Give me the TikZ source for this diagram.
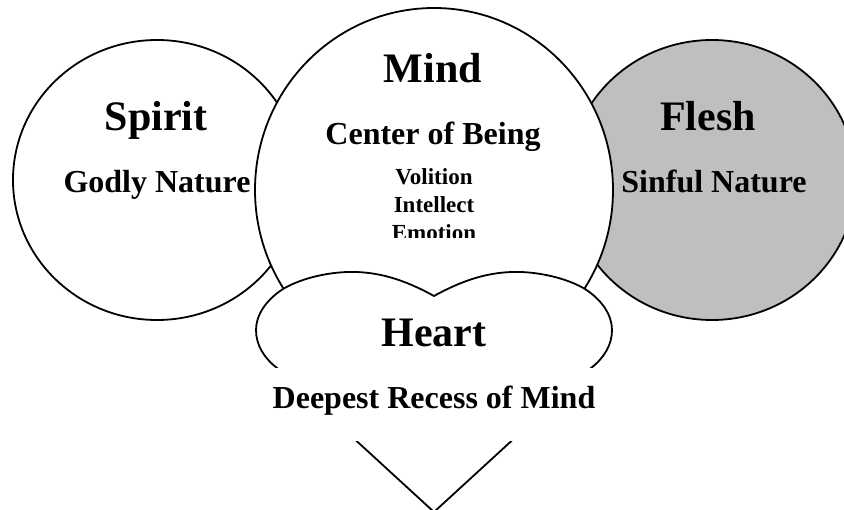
\documentclass[tikz,border=0pt]{standalone}
\usepackage{fontspec}
\setmainfont{Liberation Serif}
\begin{document}
\begin{tikzpicture}[x=1pt,y=-1pt,
    outline/.style={black,line width=1.8pt},
    title/.style={anchor=base,font=\bfseries\fontsize{42}{48}\selectfont},
    subtitle/.style={anchor=base,font=\bfseries\fontsize{32}{38}\selectfont},
    small/.style={anchor=base,font=\bfseries\fontsize{23}{28}\selectfont}]
    \useasboundingbox (0,0) rectangle (844,510);
    % side ellipses
    \draw[outline,fill=white] (157,180) ellipse (144 and 140);
    \draw[outline,fill=black!25] (712,180) ellipse (144 and 140);
    \node[title] (spirit) at (156,131) {Spirit};
    \node[subtitle] (godly) at (157,193) {Godly Nature};
    \node[title] (flesh) at (708,131) {Flesh};
    \node[subtitle] (sinful) at (714,193) {Sinful Nature};
    % mind in the middle
    \draw[outline,fill=white] (434,190) ellipse (179 and 182);
    \node[title] (mind) at (433,83) {Mind};
    \node[subtitle] (center) at (433,145) {Center of Being};
    \node[small] (volition) at (434,185) {Volition};
    \node[small] (intellect) at (434,213) {Intellect};
    \begin{scope}
        \clip (300,150) rectangle (570,238);
        \node[small] (emotion) at (434,241) {Emotion};
    \end{scope}
    % heart
    \draw[outline,fill=white,line join=miter] (434,296)
        .. controls (405,280) and (378,271) .. (347,272)
        .. controls (322,273) and (298,280) .. (283,289)
        .. controls (266,300) and (256,315) .. (256,330)
        .. controls (256,345) and (264,358) .. (277,368)
        -- (434,512) -- (591,368)
        .. controls (604,358) and (612,345) .. (612,330)
        .. controls (612,315) and (602,300) .. (585,289)
        .. controls (570,280) and (546,273) .. (521,272)
        .. controls (490,271) and (463,280) .. (434,296) -- cycle;
    \node[title] (heart) at (434,347) {Heart};
    \node[subtitle,anchor=center,fill=white,minimum width=340pt,minimum height=73pt,
        text height=16pt,text depth=7pt] (recess) at (434,404.5) {Deepest Recess of Mind};
\end{tikzpicture}
\end{document}
